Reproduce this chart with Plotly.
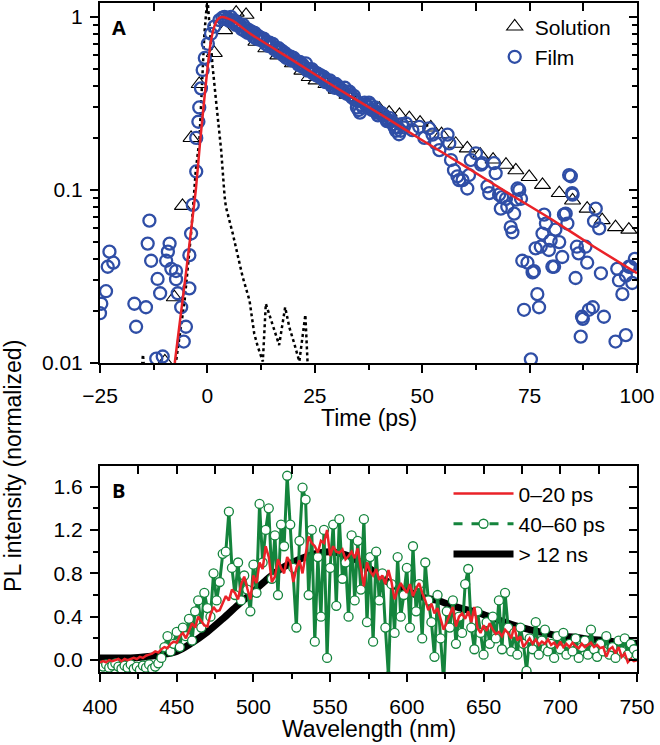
import plotly.graph_objects as go

# ---------------- Panel A data ----------------
sol_t = [-9.9, -7.7, -5.8, -3.8, -1.9, 1.6, 4.0, 6.7, 9.0, 11.3, 13.6, 16.4, 19.8, 22.0, 23.7,
         25.3, 27.6, 30.0, 32.5, 35.0, 37.5, 40.0, 42.3, 44.7, 47.0, 49.5, 52.0, 54.5, 57.8,
         60.5, 63.5, 66.5, 69.5, 71.8, 74.9, 78.0, 81.9, 85.0, 88.4, 91.9, 95.0, 98.1]
sol_y = [0.0102, 0.024, 0.081, 0.20, 0.41, 0.62, 0.84, 1.06, 1.03, 0.72, 0.66, 0.60, 0.54, 0.49, 0.45,
         0.43, 0.41, 0.38, 0.355, 0.33, 0.31, 0.295, 0.28, 0.272, 0.26, 0.245, 0.23, 0.21, 0.185,
         0.174, 0.16, 0.15, 0.14, 0.13, 0.119, 0.107, 0.096, 0.087, 0.078, 0.067, 0.061, 0.059]

film_t = [-25.0, -24.7, -23.6, -23.2, -22.8, -21.9, -17.0, -16.6, -14.3, -13.9, -13.5, -13.1,
          -11.9, -11.6, -11.0, -10.4, -9.6, -9.2, -8.8, -8.4, -7.3, -7.3, -6.9, -6.1, -5.5, -5.0,
          -4.2, -4.2, -3.8, -3.4, -2.6, -2.6, -2.1, -1.9, -1.5, -1.1, -0.6, 0.1, 0.85, 1.6, 2.8, 3.5,
          4.0, 4.8, 5.5, 6.2, 7.0, 7.6, 8.3, 9.0, 9.7, 10.4, 11.0, 11.7, 12.4, 13.1, 13.8, 14.5,
          15.2, 15.9, 16.6, 17.3, 18.0, 18.7, 19.4, 20.1, 20.8, 21.5, 22.2, 22.9, 23.6, 24.3,
          25.0, 25.7, 26.4, 27.1, 27.8, 28.5, 29.2, 29.9, 30.6, 31.3, 32.0, 32.7, 33.4, 34.1,
          34.8, 35.5, 36.2, 36.9, 37.6, 38.3, 39.0, 39.7, 40.4, 41.1, 41.8, 42.5, 43.2, 43.9,
          44.6, 45.3, 46.2, 47.7, 49.3, 50.5, 51.6, 52.4, 53.2, 54.0, 55.9, 56.3, 56.7, 57.4,
          58.2, 58.6, 59.4, 60.5, 60.9, 61.3, 62.5, 63.7, 64.0, 65.2, 65.6, 66.7, 67.1, 67.9,
          68.3, 68.6, 69.5, 69.8, 70.6, 71.0, 71.4, 71.8, 72.2, 72.6, 73.0, 73.3, 73.7, 74.5,
          75.3, 75.7, 76.0, 76.4, 76.8, 77.2, 77.6, 78.0, 78.4, 78.8, 79.5, 79.9, 80.3, 80.7,
          81.0, 81.9, 82.6, 83.0, 83.4, 83.8, 84.2, 84.6, 84.9, 85.0, 85.7, 86.0, 86.4, 86.9,
          87.2, 87.4, 88.0, 88.4, 88.8, 89.7, 90.0, 90.4, 91.2, 91.6, 92.3, 95.0, 95.4, 95.8,
          96.6, 97.4, 97.4, 98.1, 98.5, 98.9, 99.5,
          4.4, 5.1, 5.9, 6.6, 7.3, 8.0, 8.7, 9.4, 10.1, 10.7, 11.4, 12.1, 12.8, 13.5, 14.2, 14.9,
          15.6, 16.3, 17.0, 17.7, 18.4, 19.1, 19.8, 20.5, 21.2, 21.9, 22.6, 23.3, 24.0, 24.7,
          25.4, 26.1, 26.8, 27.5, 28.2, 28.9, 29.6, 30.3, 31.0, 31.7, 32.4, 33.1, 33.8, 34.5,
          35.2, 35.9, 36.6, 37.3, 38.0, 38.7, 39.4, 40.1, 40.8, 41.5, 42.2, 42.9, 43.6, 44.3,
          45.0, 45.7]
film_y = [0.0194, 0.022, 0.026, 0.036, 0.044, 0.038, 0.022, 0.0162, 0.021, 0.049, 0.0665, 0.039,
          0.0106, 0.0306, 0.0253, 0.0109, 0.039, 0.044, 0.049, 0.035, 0.034, 0.0305, 0.0253, 0.021, 0.0133, 0.0162,
          0.027, 0.042, 0.056, 0.082, 0.128, 0.20, 0.248, 0.30, 0.387, 0.494, 0.58, 0.70, 0.80, 0.88, 0.96, 0.99,
          1.00, 0.98, 1.00, 0.96, 0.93, 0.90, 0.90, 0.86, 0.84, 0.82, 0.81, 0.78, 0.76, 0.75, 0.72, 0.71,
          0.70, 0.66, 0.66, 0.64, 0.62, 0.60, 0.59, 0.58, 0.55, 0.55, 0.53, 0.54, 0.50, 0.50,
          0.48, 0.47, 0.46, 0.45, 0.43, 0.43, 0.41, 0.41, 0.39, 0.38, 0.39, 0.37, 0.35, 0.35,
          0.30, 0.28, 0.30, 0.31, 0.32, 0.29, 0.30, 0.27, 0.28, 0.27, 0.25, 0.26, 0.24, 0.22,
          0.21, 0.24, 0.243, 0.222, 0.232, 0.20, 0.227, 0.209, 0.186, 0.17, 0.209, 0.186, 0.149, 0.13,
          0.12, 0.114, 0.114, 0.102, 0.122, 0.149, 0.163, 0.14, 0.143, 0.105, 0.096, 0.143, 0.125, 0.094,
          0.078, 0.091, 0.089, 0.080, 0.061, 0.057, 0.073, 0.088, 0.102, 0.10, 0.089, 0.039, 0.0203, 0.038,
          0.0105, 0.0334, 0.034, 0.046, 0.025, 0.021, 0.047, 0.056, 0.072, 0.064, 0.045, 0.051, 0.036, 0.036,
          0.059, 0.050, 0.041, 0.072, 0.073, 0.064, 0.122, 0.12, 0.096, 0.094, 0.031, 0.047, 0.043, 0.0142,
          0.0185, 0.018, 0.047, 0.038, 0.0203, 0.021, 0.066, 0.078, 0.060, 0.033, 0.0185, 0.0133, 0.035, 0.030,
          0.025, 0.032, 0.0145, 0.036, 0.036, 0.029, 0.040,
          0.97, 0.95, 0.94, 0.90, 0.89, 0.85, 0.83, 0.81, 0.80, 0.77, 0.75, 0.74, 0.73, 0.70, 0.68, 0.68,
          0.65, 0.63, 0.63, 0.60, 0.58, 0.57, 0.56, 0.56, 0.53, 0.52, 0.51, 0.49, 0.49, 0.47,
          0.46, 0.45, 0.44, 0.42, 0.42, 0.40, 0.39, 0.40, 0.38, 0.37, 0.36, 0.37, 0.34, 0.33,
          0.29, 0.31, 0.32, 0.30, 0.31, 0.29, 0.28, 0.28, 0.27, 0.26, 0.25, 0.25, 0.23, 0.23,
          0.22, 0.23]

irf_t = [-15.3, -15.0, -14.7, -10.0, -7.3, -5.3, -3.8, -2.7, -1.86, -1.5, -1.1, -0.7, 0.0,
         0.6, 1.2, 2.0, 2.4, 3.2, 4.0, 4.3, 5.9, 8.2, 9.8, 10.9, 11.7, 12.9, 13.6, 14.8, 16.7,
         18.1, 19.1, 20.2, 21.4, 22.8, 23.5]
irf_y = [0.009, 0.0112, 0.009, 0.005, 0.0102, 0.023, 0.056, 0.13, 0.195, 0.30, 0.52, 0.80, 1.3,
         0.80, 0.52, 0.33, 0.265, 0.17, 0.092, 0.08, 0.056, 0.0315, 0.023, 0.0148, 0.0125, 0.0102,
         0.022, 0.0177, 0.0127, 0.021, 0.016, 0.013, 0.0102, 0.019, 0.008]

fit_t = [-7.6, -5.0, -2.7, -1.7, -0.8, 0.0, 0.8, 1.6, 2.3, 3.0, 3.5, 4.5, 6.0, 10.0, 20.0,
         30.0, 40.0, 50.0, 60.0, 70.0, 80.0, 90.0, 100.0]
fit_y = [0.01, 0.033, 0.10, 0.19, 0.32, 0.50, 0.72, 0.88, 0.96, 0.995, 1.0, 0.985, 0.95, 0.80,
         0.56, 0.39, 0.277, 0.194, 0.137, 0.096, 0.068, 0.047, 0.033]

# ---------------- Panel B data ----------------
wl = list(range(400, 751, 2))
early = [-0.02, -0.01, -0.02, 0.00, -0.01,
         0.00, 0.01, -0.01, 0.01, 0.00,
         0.01, 0.02, 0.01, 0.03, 0.02,
         0.04, 0.05, 0.06, 0.08, 0.07,
         0.10, 0.12, 0.11, 0.15, 0.17,
         0.16, 0.22, 0.25, 0.20, 0.28,
         0.34, 0.30, 0.40, 0.36, 0.32,
         0.31, 0.42, 0.49, 0.45, 0.46,
         0.52, 0.59, 0.55, 0.65, 0.62,
         0.56, 0.70, 0.77, 0.66, 0.56,
         0.78, 0.71, 0.90, 0.84, 1.05,
         0.95, 0.72, 0.77, 0.93, 0.85,
         0.80, 0.95, 0.90, 0.72, 0.85,
         0.92, 0.80, 0.98, 1.14, 1.08,
         1.05, 0.99, 1.10, 1.08, 1.20,
         0.96, 1.05, 1.00, 0.99, 1.02,
         0.93, 0.96, 1.00, 0.94, 1.03,
         0.85, 0.68, 0.90, 0.82, 0.78,
         0.84, 0.74, 0.78, 0.70, 0.83,
         0.72, 0.56, 0.65, 0.71, 0.66,
         0.62, 0.70, 0.59, 0.66, 0.71,
         0.62, 0.55, 0.46, 0.52, 0.43,
         0.48, 0.38, 0.28, 0.35, 0.42,
         0.49, 0.31, 0.40, 0.43, 0.38,
         0.45, 0.35, 0.49, 0.30, 0.25,
         0.32, 0.27, 0.34, 0.28, 0.24,
         0.26, 0.22, 0.28, 0.25, 0.20,
         0.31, 0.18, 0.22, 0.12, 0.16,
         0.20, 0.15, 0.19, 0.14, 0.17,
         0.15, 0.19, 0.14, 0.16, 0.12,
         0.17, 0.12, 0.15, 0.12, 0.16,
         0.13, 0.11, 0.15, 0.12, 0.14,
         0.16, 0.12, 0.14, 0.11, 0.12,
         0.03, 0.10, 0.12, 0.06, 0.12,
         0.03, 0.06, -0.02, 0.01, -0.01,
         0.00]
mid = [-0.05, -0.06, -0.04, -0.07, -0.05,
       -0.03, -0.06, -0.08, -0.05, -0.07,
       -0.04, -0.08, -0.06, -0.09, -0.05,
       -0.07, -0.04, -0.08, -0.06, -0.03,
       0.02, 0.12, 0.22, 0.08, 0.15,
       0.26, 0.12, 0.30, 0.22, 0.38,
       0.18, 0.45, 0.55, 0.30, 0.62,
       0.48, 0.40, 0.80, 0.55, 0.72,
       0.98, 1.00, 1.37, 0.85, 0.60,
       0.90, 0.55, 0.78, 0.65, 0.45,
       0.88, 0.62, 1.44, 0.90, 1.20,
       1.40, 0.75, 1.15, 0.60, 1.25,
       1.05, 1.70, 1.25, 0.85, 0.30,
       1.10, 1.59, 1.48, 0.60, 1.20,
       0.17, 0.95, 0.40, 1.20, 0.02,
       0.85, 1.25, 0.50, 1.30, 0.75,
       0.90, 0.40, 1.15, 0.55, 1.10,
       0.65, 1.30, 0.35, 0.95, 0.17,
       1.00, 0.55, 0.80, 0.30, -0.15,
       0.70, 0.25, 0.95, 0.40, 0.60,
       0.85, 0.30, 1.05, 0.45, 0.70,
       0.20, 0.90, 0.55, 0.35, 0.03,
       0.60, 0.20, -0.20, 0.45, 0.30,
       0.55, 0.15, 0.40, 0.25, 0.70,
       0.84, 0.30, 0.10, 0.45, 0.25,
       0.05, 0.35, 0.15, 0.40, 0.20,
       0.55, 0.10, 0.62, 0.30, 0.08,
       0.25, 0.05, 0.30, 0.15, -0.10,
       0.20, 0.10, 0.35, 0.05, 0.18,
       0.28, 0.08, 0.15, 0.02, 0.22,
       0.10, 0.25, 0.05, 0.15, 0.08,
       0.20, 0.02, 0.12, 0.18, 0.05,
       0.28, 0.10, 0.03, 0.15, 0.08,
       0.22, 0.05, 0.12, 0.02, 0.18,
       0.08, 0.20, 0.05, 0.15, 0.10,
       0.05]
wl_late = list(range(400, 751, 10))
late = [0.02, 0.02, 0.02, 0.03, 0.05, 0.08, 0.16, 0.26, 0.38, 0.51, 0.63, 0.76, 0.86, 0.93,
        0.98, 1.00, 0.97, 0.90, 0.80, 0.70, 0.64, 0.58, 0.55, 0.50, 0.46, 0.42, 0.37, 0.32,
        0.28, 0.25, 0.22, 0.21, 0.19, 0.18, 0.16, 0.155]

x_ticks_a = [-25, 0, 25, 50, 75, 100]
x_ticktext_a = ["\u221225", "0", "25", "50", "75", "100"]
x_minor_a = [-12.5, 12.5, 37.5, 62.5, 87.5]
y_ticks_a = [0.01, 0.1, 1]
y_ticktext_a = ["0.01", "0.1", "1"]
y_minor_a = [k * m for m in (0.01, 0.1) for k in range(2, 10)]
x_ticks_b = [400, 450, 500, 550, 600, 650, 700, 750]
x_minor_b = [425, 475, 525, 575, 625, 675, 725]
y_ticks_b = [0.0, 0.4, 0.8, 1.2, 1.6]
y_ticktext_b = ["0.0", "0.4", "0.8", "1.2", "1.6"]
y_minor_b = [0.2, 0.6, 1.0, 1.4]

FONT = "Liberation Sans, Arial, sans-serif"
RED = "#ea2228"
BLUE = "#2f4ea6"
GREEN = "#14843c"

fig = go.Figure()

# Panel A traces
fig.add_trace(go.Scatter(x=irf_t, y=irf_y, mode="lines", line=dict(color="black", width=2.5, dash="dot"),
                         showlegend=False, xaxis="x", yaxis="y", hoverinfo="skip"))
fig.add_trace(go.Scatter(x=sol_t, y=sol_y, mode="markers", name="Solution",
                         marker=dict(symbol="triangle-up-open", size=14, color="black", line=dict(width=1.1)),
                         xaxis="x", yaxis="y", legend="legend"))
fig.add_trace(go.Scatter(x=film_t, y=film_y, mode="markers", name="Film",
                         marker=dict(symbol="circle-open", size=12, color=BLUE, line=dict(width=2.3)),
                         xaxis="x", yaxis="y", legend="legend"))
fig.add_trace(go.Scatter(x=fit_t, y=fit_y, mode="lines", line=dict(color=RED, width=2.5, shape="spline", smoothing=0.5),
                         showlegend=False, xaxis="x", yaxis="y"))

# Panel B traces
fig.add_trace(go.Scatter(x=wl_late, y=late, mode="lines", name="> 12 ns",
                         line=dict(color="black", width=7, shape="spline"),
                         xaxis="x2", yaxis="y2", legend="legend2", legendrank=3, legendgroup="g3"))
fig.add_trace(go.Scatter(x=wl, y=mid, mode="lines+markers", showlegend=False,
                         line=dict(color=GREEN, width=3),
                         marker=dict(symbol="circle", size=9, color="white", line=dict(color=GREEN, width=1.3)),
                         xaxis="x2", yaxis="y2"))
fig.add_trace(go.Scatter(x=wl, y=early, mode="lines", name="0\u201320 ps",
                         line=dict(color=RED, width=2.5),
                         xaxis="x2", yaxis="y2", legend="legend2", legendrank=1, legendgroup="g1"))
fig.add_trace(go.Scatter(x=[None], y=[None], mode="lines+markers", name="40\u201360 ps",
                         line=dict(color=GREEN, width=3, dash="dash"),
                         marker=dict(symbol="circle", size=9, color="white", line=dict(color=GREEN, width=1.3)),
                         xaxis="x2", yaxis="y2", legend="legend2", legendrank=2, legendgroup="g2"))

# dummy traces for mirrored (inside) axes
fig.add_trace(go.Scatter(x=[None], y=[None], xaxis="x3", yaxis="y", showlegend=False, hoverinfo="skip"))
fig.add_trace(go.Scatter(x=[None], y=[None], xaxis="x", yaxis="y3", showlegend=False, hoverinfo="skip"))
fig.add_trace(go.Scatter(x=[None], y=[None], xaxis="x4", yaxis="y2", showlegend=False, hoverinfo="skip"))
fig.add_trace(go.Scatter(x=[None], y=[None], xaxis="x2", yaxis="y4", showlegend=False, hoverinfo="skip"))

DOM_A = [0.4619, 1.0]
DOM_B = [0.0, 0.3079]
tickfont = dict(family=FONT, size=21, color="black")
common = dict(showline=True, linewidth=2, linecolor="black", showgrid=False, zeroline=False,
              tickwidth=2, tickcolor="black", ticklen=8, tickfont=tickfont, automargin=False)
minor_out = dict(tickmode="array", ticks="outside", ticklen=5, tickwidth=2, tickcolor="black")
minor_in = dict(tickmode="array", ticks="inside", ticklen=5, tickwidth=2, tickcolor="black")

fig.update_layout(
    width=660, height=745,
    margin=dict(l=100, r=23, t=3, b=73),
    paper_bgcolor="white", plot_bgcolor="white",
    font=dict(family=FONT, size=21, color="black"),
    xaxis=dict(domain=[0, 1], anchor="y", range=[-25, 100], ticks="outside", tickmode="array",
               tickvals=x_ticks_a, ticktext=x_ticktext_a, minor=dict(tickvals=x_minor_a, **minor_out),
               ticklabelstandoff=5, ticklabeloverflow="allow", **common),
    yaxis=dict(domain=DOM_A, anchor="x", type="log", range=[-2, 0.081], ticks="outside", tickmode="array",
               tickvals=y_ticks_a, ticktext=y_ticktext_a, minor=dict(tickvals=y_minor_a, **minor_out),
               ticklabelstandoff=3, ticklabeloverflow="allow", **common),
    xaxis3=dict(overlaying="x", anchor="y", side="top", range=[-25, 100], ticks="inside", tickmode="array",
                tickvals=x_ticks_a + x_minor_a, showticklabels=False, **common),
    yaxis3=dict(overlaying="y", anchor="x", side="right", type="log", range=[-2, 0.081], ticks="inside",
                tickmode="array", tickvals=y_ticks_a, showticklabels=False,
                minor=dict(tickvals=y_minor_a, **minor_in), **common),
    xaxis2=dict(domain=[0, 1], anchor="y2", range=[400, 750], ticks="outside", tickmode="array",
                tickvals=x_ticks_b, minor=dict(tickvals=x_minor_b, **minor_out),
                ticklabelstandoff=7, ticklabeloverflow="allow", **common),
    yaxis2=dict(domain=DOM_B, anchor="x2", range=[-0.11, 1.79], ticks="outside", tickmode="array",
                tickvals=y_ticks_b, ticktext=y_ticktext_b, minor=dict(tickvals=y_minor_b, **minor_out),
                ticklabelstandoff=3, ticklabeloverflow="allow", **common),
    xaxis4=dict(overlaying="x2", anchor="y2", side="top", range=[400, 750], ticks="inside", tickmode="array",
                tickvals=x_ticks_b + x_minor_b, showticklabels=False, **common),
    yaxis4=dict(overlaying="y2", anchor="x2", side="right", range=[-0.11, 1.79], ticks="inside", tickmode="array",
                tickvals=y_ticks_b + y_minor_b, showticklabels=False, **common),
    legend=dict(x=0.735, y=0.995, xanchor="left", yanchor="top", bgcolor="rgba(0,0,0,0)",
                font=dict(family=FONT, size=21), itemwidth=30),
    legend2=dict(x=0.649, y=0.297, xanchor="left", yanchor="top", bgcolor="rgba(0,0,0,0)",
                 font=dict(family=FONT, size=21), itemwidth=60, traceorder="grouped", tracegroupgap=0),
    annotations=[
        dict(text="<b>A</b>", x=0.0345, y=0.9641, xref="paper", yref="paper", showarrow=False,
             font=dict(family="Open Sans, sans-serif", size=20), xanchor="center", yanchor="middle"),
        dict(text="<b>B</b>", x=0.0345, y=0.272, xref="paper", yref="paper", showarrow=False,
             font=dict(family="Open Sans, sans-serif", size=20), xanchor="center", yanchor="middle"),
        dict(text="PL intensity (normalized)", x=-0.162, y=0.308, xref="paper", yref="paper", showarrow=False,
             textangle=-90, font=dict(family=FONT, size=23), xanchor="center", yanchor="middle"),
        dict(text="Time (ps)", x=0.5, y=0.3797, xref="paper", yref="paper", showarrow=False,
             font=dict(family=FONT, size=23), xanchor="center", yanchor="middle"),
        dict(text="Wavelength (nm)", x=0.5, y=-0.0852, xref="paper", yref="paper", showarrow=False,
             font=dict(family=FONT, size=23), xanchor="center", yanchor="middle"),
    ],
)

fig.write_html("out.html", config={"displayModeBar": False},
               post_script="document.body.style.margin='0';")
